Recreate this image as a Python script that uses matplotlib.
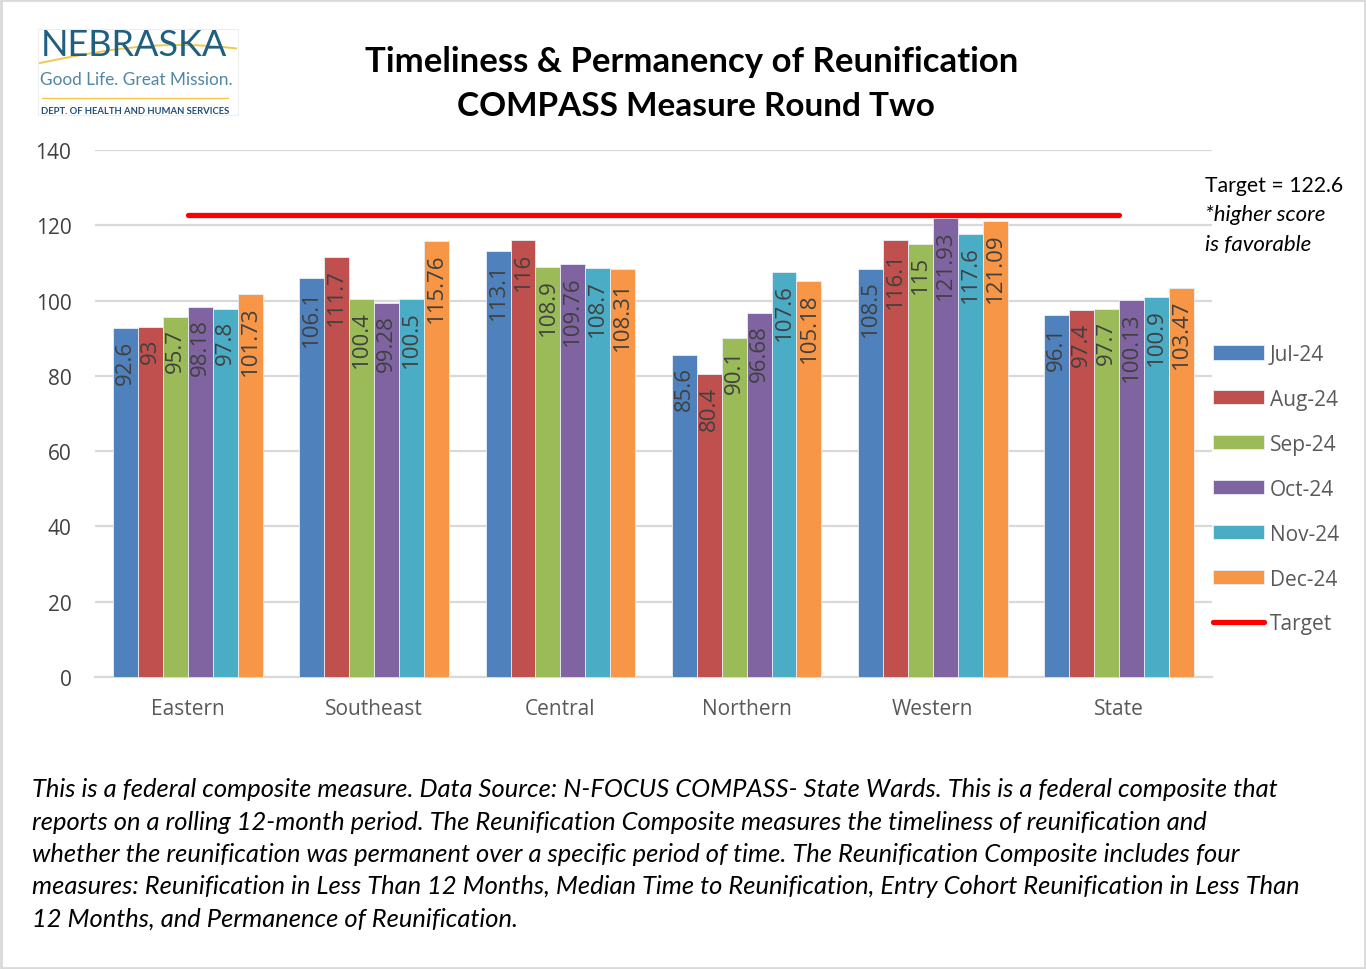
import matplotlib.pyplot as plt
from matplotlib.patches import Rectangle
import numpy as np

# data
regions = ['Eastern', 'Southeast', 'Central', 'Northern', 'Western', 'State']
months = ['Jul-24', 'Aug-24', 'Sep-24', 'Oct-24', 'Nov-24', 'Dec-24']
jul = [92.6, 106.1, 113.1, 85.6, 108.5, 96.1]
aug = [93, 111.7, 116, 80.4, 116.1, 97.4]
sep = [95.7, 100.4, 108.9, 90.1, 115, 97.7]
oct_ = [98.18, 99.28, 109.76, 96.68, 121.93, 100.13]
nov = [97.8, 100.5, 108.7, 107.6, 117.6, 100.9]
dec = [101.73, 115.76, 108.31, 105.18, 121.09, 103.47]
target = 122.6
yticks = [0, 20, 40, 60, 80, 100, 120, 140]

series = [jul, aug, sep, oct_, nov, dec]
colors = ['#4F81BD', '#C0504D', '#9BBB59', '#8064A2', '#4BACC6', '#F79646']

W, H = 1366, 970
fig = plt.figure(figsize=(W / 100, H / 100), dpi=100)

def fx(px):
    return px / W

def fy(py):
    return 1 - py / H

# axes placed in pixel terms of the reference
ax = fig.add_axes([fx(95), fy(678), fx(1212) - fx(95), fy(151) - fy(678)])

x = np.arange(len(regions))
bw = 0.134
for i, (vals, c) in enumerate(zip(series, colors)):
    pos = x + (i - 2.5) * bw
    bars = ax.bar(pos, vals, width=bw, color=c, edgecolor='#e8eef5',
                  linewidth=0.6, label=months[i], zorder=3)
    for b, v in zip(bars, vals):
        ax.annotate(f'{v:g}', (b.get_x() + b.get_width() / 2, v),
                    xytext=(0, -8), textcoords='offset points',
                    rotation=90, ha='center', va='top', fontsize=16,
                    color='#404040', family='Open Sans', zorder=4)

ax.plot(x, [target] * len(x), color='#FF0000', lw=3.8,
        solid_capstyle='round', label='Target', zorder=5)

ax.set_xlim(-0.5, len(regions) - 0.5)
ax.set_ylim(0, 140)
ax.set_yticks(yticks)
ax.set_xticks(x)
ax.set_xticklabels(regions, family='Open Sans', fontsize=15, color='#595959')
for t in ax.get_yticklabels():
    t.set_family('Open Sans')
    t.set_fontsize(15)
    t.set_color('#404040')
ax.tick_params(axis='y', length=0, pad=17)
ax.tick_params(axis='x', length=0, pad=15)
ax.grid(axis='y', color='#d9d9d9', lw=1.6, zorder=0)
for s in ['top', 'right', 'left']:
    ax.spines[s].set_visible(False)
ax.spines['bottom'].set_color('#d9d9d9')
ax.spines['bottom'].set_linewidth(1.6)

handles, labels = ax.get_legend_handles_labels()
order = [labels.index(m) for m in months] + [labels.index('Target')]
leg = fig.legend([handles[k] for k in order], [labels[k] for k in order],
                 loc='upper left', bbox_to_anchor=(fx(1194), fy(326)),
                 frameon=False, prop={'family': 'Open Sans', 'size': 15},
                 handlelength=2.45, handleheight=0.67, handletextpad=0.3,
                 labelspacing=1.15)
for t in leg.get_texts():
    t.set_color('#595959')

# target note
fig.text(fx(1205), fy(186), 'Target = 122.6', fontsize=15.3, family='Lato',
         color='black', va='center')
fig.text(fx(1205), fy(215), '*higher score', fontsize=16, family='Lato',
         style='italic', color='black', va='center')
fig.text(fx(1205), fy(245), 'is favorable', fontsize=16, family='Lato',
         style='italic', color='black', va='center')

# title
fig.text(fx(692), fy(62), 'Timeliness & Permanency of Reunification',
         fontsize=25, family='Lato', weight='bold', ha='center', va='center')
fig.text(fx(696), fy(106), 'COMPASS Measure Round Two',
         fontsize=24, family='Lato', weight='bold', ha='center', va='center')

# logo
fig.patches.append(Rectangle((fx(38), fy(116)), fx(238) - fx(38), fy(30) - fy(116),
                             transform=fig.transFigure, fill=False,
                             ec='#eeeeee', lw=0.8))
t_sw = np.linspace(0, 1, 50)
fig.lines.append(plt.Line2D(fx(40 + 196 * t_sw), fy(64 - 18 * np.sin(t_sw * 2.2)),
                            transform=fig.transFigure, color='#f2c84b', lw=1.4))
fig.text(fx(134), fy(46), 'NEBRASKA', fontsize=26, family='Lato',
         color='#1f5f80', ha='center', va='center')
fig.text(fx(136), fy(80), 'Good Life. Great Mission.', fontsize=12.4,
         family='Lato', color='#4e88a6', ha='center', va='center')
fig.lines.append(plt.Line2D([fx(42), fx(228)], [fy(99), fy(99)],
                            transform=fig.transFigure, color='#f2c84b', lw=1))
fig.text(fx(135), fy(111), 'DEPT. OF HEALTH AND HUMAN SERVICES', fontsize=6.8,
         family='Lato', weight='bold', color='#1f4e79', ha='center', va='center')

# footnote
note = ('This is a federal composite measure. Data Source: N-FOCUS COMPASS- State Wards. This is a federal composite that\n'
        'reports on a rolling 12-month period. The Reunification Composite measures the timeliness of reunification and\n'
        'whether the reunification was permanent over a specific period of time. The Reunification Composite includes four\n'
        'measures: Reunification in Less Than 12 Months, Median Time to Reunification, Entry Cohort Reunification in Less Than\n'
        '12 Months, and Permanence of Reunification.')
fig.text(fx(32), fy(778), note, fontsize=18.4, family='Lato', style='italic',
         color='black', ha='left', va='top', linespacing=1.5)

# outer border
fig.patches.append(Rectangle((0.001, 0.001), 0.998, 0.998, transform=fig.transFigure,
                             fill=False, ec='#d9d9d9', lw=2))

fig.savefig('out.png', dpi=100)
